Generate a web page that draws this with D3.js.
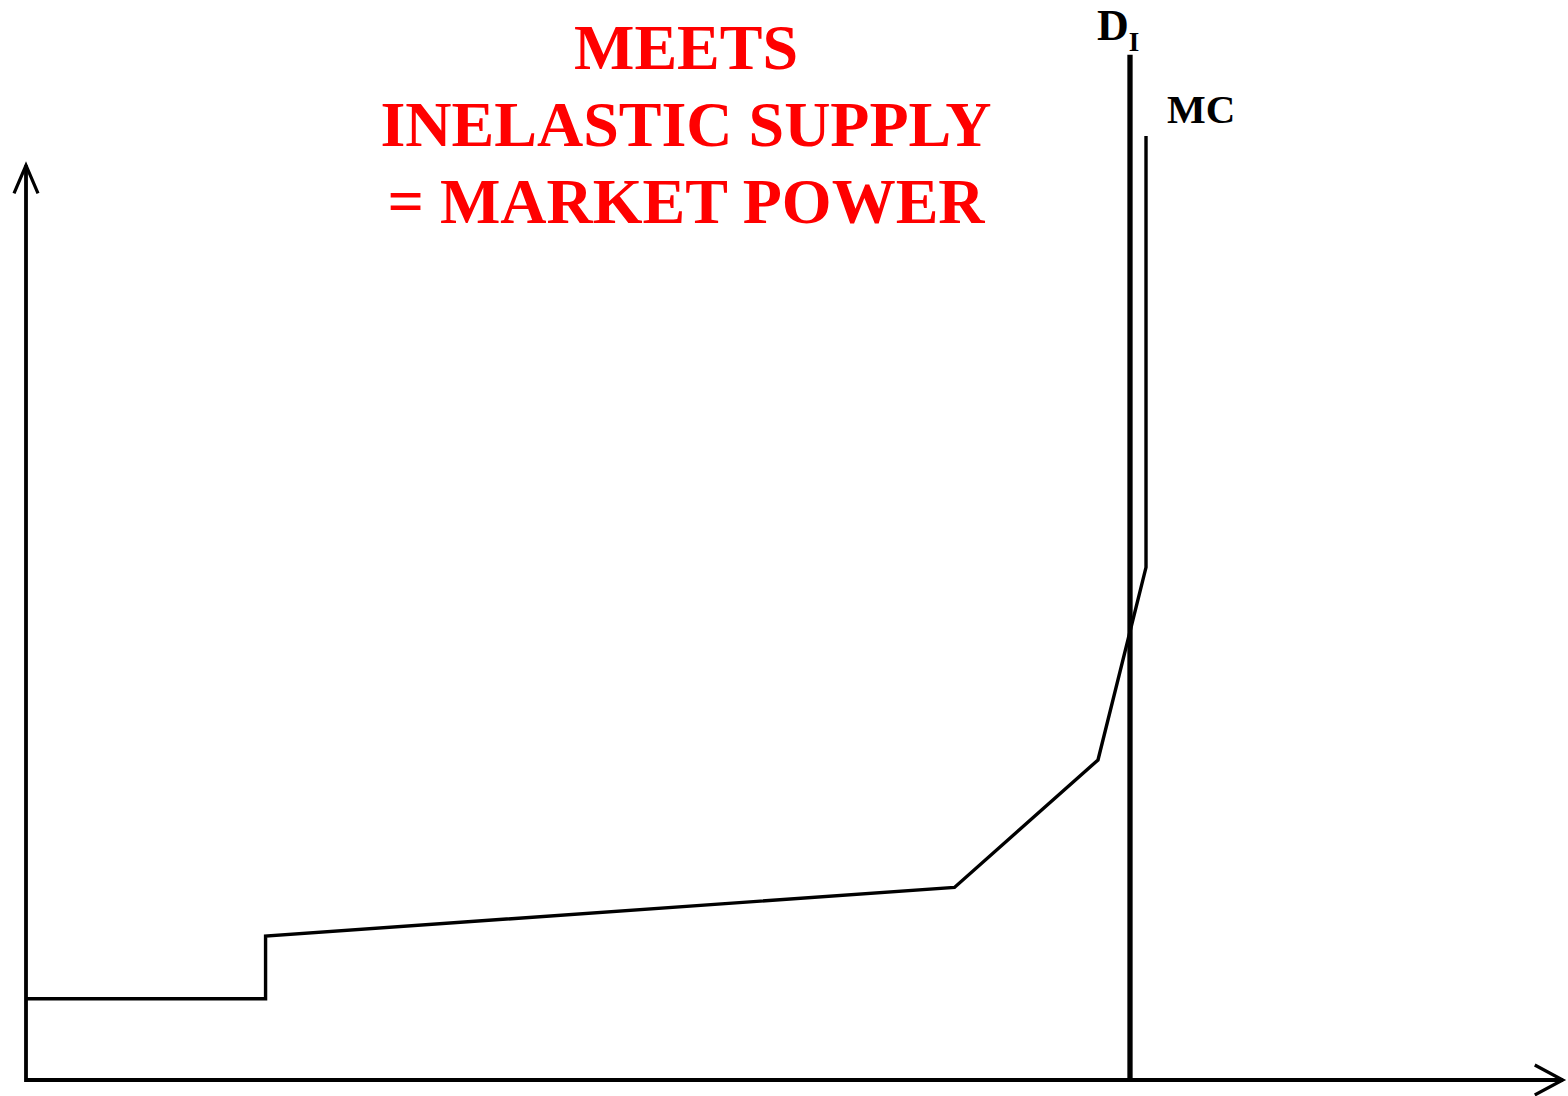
<!DOCTYPE html>
<html>
<head>
<meta charset="utf-8">
<script src="https://cdn.jsdelivr.net/npm/d3@7"></script>
<style>
  body { margin: 0; background: #fff; }
  svg { display: block; }
</style>
</head>
<body>
<script>
const outerWidth = 1568;
const outerHeight = 1096;

// quantity / price in arbitrary units (D_I sits at Q = 100)
const mcQuantity = [0, 21.7, 21.7, 84.1, 97.1, 101.45, 101.45];
const mcPrice = [8.6, 8.6, 15.25, 20.4, 33.9, 54.3, 100];
const demandQuantity = [100, 100];
const demandPrice = [0, 108.6];
const titleLines = ["MEETS", "INELASTIC SUPPLY", "= MARKET POWER"];
const xAxisEnd = 139.2;
const yAxisEnd = 96.9;

const serif = "'Liberation Serif', 'Times New Roman', serif";

const xScale = d3.scaleLinear().domain([0, 100]).range([26, 1130]);
const yScale = d3.scaleLinear().domain([0, 100]).range([1080, 136]);

const svg = d3.select("body").append("svg")
  .attr("width", outerWidth)
  .attr("height", outerHeight);

const line = d3.line()
  .x(d => xScale(d[0]))
  .y(d => yScale(d[1]));

// axes with open arrow heads
const axesG = svg.append("g")
  .attr("fill", "none")
  .attr("stroke", "#000")
  .attr("stroke-width", 3.8);

axesG.append("path")
  .attr("d", line([[0, yAxisEnd], [0, 0], [xAxisEnd, 0]]));

const yTip = [xScale(0), yScale(yAxisEnd)];
axesG.append("path")
  .attr("stroke-width", 3.2)
  .attr("d", `M${yTip[0] - 12},${yTip[1] + 28}L${yTip[0]},${yTip[1]}L${yTip[0] + 12},${yTip[1] + 28}`);

const xTip = [xScale(xAxisEnd), yScale(0)];
axesG.append("path")
  .attr("stroke-width", 3.2)
  .attr("d", `M${xTip[0] - 28},${xTip[1] - 15}L${xTip[0]},${xTip[1]}L${xTip[0] - 28},${xTip[1] + 15}`);

// MC curve
svg.append("path")
  .attr("fill", "none")
  .attr("stroke", "#000")
  .attr("stroke-width", 3.4)
  .attr("stroke-linejoin", "miter")
  .attr("d", line(mcQuantity.map((q, i) => [q, mcPrice[i]])));

// vertical demand
svg.append("path")
  .attr("fill", "none")
  .attr("stroke", "#000")
  .attr("stroke-width", 5.3)
  .attr("d", line(demandQuantity.map((q, i) => [q, demandPrice[i]])));

// labels
const dLabel = svg.append("text")
  .attr("x", xScale(100) - 33)
  .attr("y", 40)
  .attr("font-family", serif)
  .attr("font-weight", "bold")
  .attr("font-size", 44)
  .text("D");
dLabel.append("tspan")
  .attr("dy", 11)
  .attr("font-size", 27)
  .text("I");

svg.append("text")
  .attr("x", xScale(101.45) + 21)
  .attr("y", 123)
  .attr("font-family", serif)
  .attr("font-weight", "bold")
  .attr("font-size", 41)
  .text("MC");

svg.append("g")
  .selectAll("text")
  .data(titleLines)
  .join("text")
  .attr("x", 686)
  .attr("y", (d, i) => 69 + i * 77)
  .attr("text-anchor", "middle")
  .attr("fill", "#ff0000")
  .attr("font-family", serif)
  .attr("font-weight", "bold")
  .attr("font-size", 64)
  .text(d => d);
</script>
</body>
</html>
